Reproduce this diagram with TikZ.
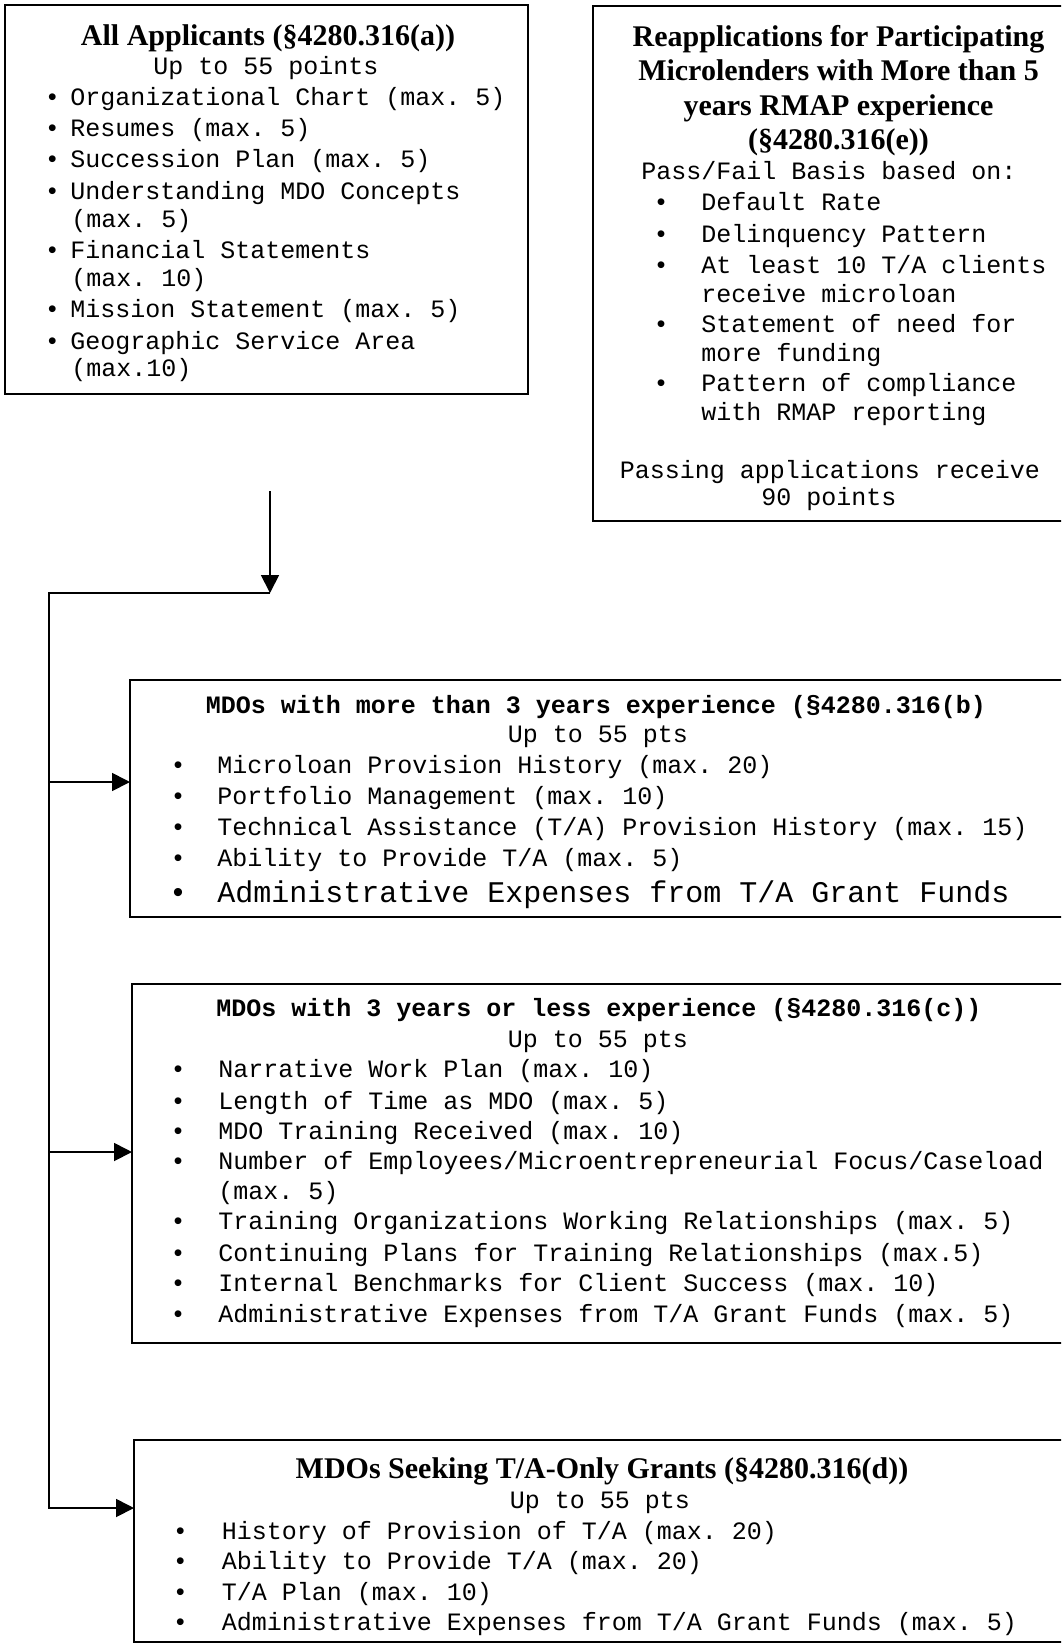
\documentclass[tikz,border=0pt]{standalone}
\usepackage{fontspec}
\setmainfont{Liberation Serif}
\setmonofont{Liberation Mono}
\usetikzlibrary{arrows.meta}
\newcommand{\fTitle}{\fontsize{15pt}{18pt}\selectfont\rmfamily\bfseries}
\newcommand{\fMono}{\fontsize{12.5pt}{15pt}\selectfont\ttfamily}
\newcommand{\fMonoB}{\fontsize{12.5pt}{15pt}\selectfont\ttfamily\bfseries}
\newcommand{\fMonoL}{\fontsize{15pt}{18pt}\selectfont\ttfamily}
\begin{document}
\begin{tikzpicture}[x=0.5pt,y=-0.5pt,
  box/.style={draw, line width=1pt, anchor=north west, inner sep=0pt, outer sep=0pt},
  ttl/.style={inner sep=0pt, font=\fTitle, text height=13pt, text depth=2.5pt},
  mono/.style={inner sep=0pt, font=\fMono, text height=11.5pt, text depth=2.5pt},
  monob/.style={inner sep=0pt, font=\fMonoB, text height=11.5pt, text depth=2.5pt},
  monol/.style={inner sep=0pt, font=\fMonoL, text height=13pt, text depth=2.5pt},
  item/.style={mono, anchor=west},
  itemL/.style={monol, anchor=west},
  bul/.style={mono},
  bulL/.style={monol},
  ln/.style={line width=0.9pt},
  arr/.style={line width=0.9pt, -{Triangle[length=9pt,width=9pt]}}
]
\useasboundingbox (0,0) rectangle (1061,1645);
\clip (0,0) rectangle (1061,1645);

% ---------- Box 1 ----------
\node[box, minimum width=261.5pt, minimum height=194.5pt] (b1) at (5,5) {};
\node[ttl] (b1t) at (268,34.6) {All Applicants (§4280.316(a))};
\node[mono] (b1s) at (266,65) {Up to 55 points};
\node[bul] (b1d1) at (52.5,96.5) {•};
\node[item] (b1i1) at (70,96.5) {Organizational Chart (max. 5)};
\node[bul] (b1d2) at (52.5,127) {•};
\node[item] (b1i2) at (70,127) {Resumes (max. 5)};
\node[bul] (b1d3) at (52.5,158.5) {•};
\node[item] (b1i3) at (70,158.5) {Succession Plan (max. 5)};
\node[bul] (b1d4) at (52.5,190) {•};
\node[item] (b1i4) at (70,190) {Understanding MDO Concepts};
\node[item] (b1i4b) at (71,218) {(max. 5)};
\node[bul] (b1d5) at (52.5,249) {•};
\node[item] (b1i5) at (70,249) {Financial Statements};
\node[item] (b1i5b) at (71,277) {(max. 10)};
\node[bul] (b1d6) at (52.5,308.5) {•};
\node[item] (b1i6) at (70,308.5) {Mission Statement (max. 5)};
\node[bul] (b1d7) at (52.5,340) {•};
\node[item] (b1i7) at (70,340) {Geographic Service Area};
\node[item] (b1i7b) at (71,367) {(max.10)};

% ---------- Box 2 ----------
\node[box, minimum width=243.5pt, minimum height=257.5pt] (b2) at (593,6) {};
\node[ttl] (b2t1) at (838.5,35.7) {Reapplications for Participating};
\node[ttl] (b2t2) at (838.5,70.3) {Microlenders with More than 5};
\node[ttl] (b2t3) at (838.5,105) {years RMAP experience};
\node[ttl] (b2t4) at (838.5,138.5) {(§4280.316(e))};
\node[mono] (b2s) at (829,170) {Pass/Fail Basis based on:};
\node[bul] (b2d1) at (661,201.5) {•};
\node[item] (b2i1) at (701,201.5) {Default Rate};
\node[bul] (b2d2) at (661,233) {•};
\node[item] (b2i2) at (701,233) {Delinquency Pattern};
\node[bul] (b2d3) at (661,264.5) {•};
\node[item] (b2i3) at (701,264.5) {At least 10 T/A clients};
\node[item] (b2i3b) at (701,293) {receive microloan};
\node[bul] (b2d4) at (661,323) {•};
\node[item] (b2i4) at (701,323) {Statement of need for};
\node[item] (b2i4b) at (701,352.6) {more funding};
\node[bul] (b2d5) at (661,382) {•};
\node[item] (b2i5) at (701,382) {Pattern of compliance};
\node[item] (b2i5b) at (701,411) {with RMAP reporting};
\node[mono] (b2p1) at (830,469) {Passing applications receive};
\node[mono] (b2p2) at (829,496) {90 points};

% ---------- Box 3 ----------
\node[box, minimum width=475pt, minimum height=118.5pt] (b3) at (130,680) {};
\node[monob] (b3t) at (596,704) {MDOs with more than 3 years experience (§4280.316(b)};
\node[mono] (b3s) at (598,733.6) {Up to 55 pts};
\node[bul] (b3d1) at (178,764) {•};
\node[item] (b3i1) at (217,764) {Microloan Provision History (max. 20)};
\node[bul] (b3d2) at (178,795.5) {•};
\node[item] (b3i2) at (217,795.5) {Portfolio Management (max. 10)};
\node[bul] (b3d3) at (178,826) {•};
\node[item] (b3i3) at (217,826) {Technical Assistance (T/A) Provision History (max. 15)};
\node[bul] (b3d4) at (178,857.4) {•};
\node[item] (b3i4) at (217,857.4) {Ability to Provide T/A (max. 5)};
\node[bulL] (b3d5) at (178,892) {•};
\node[itemL] (b3i5) at (217,892) {Administrative Expenses from T/A Grant Funds};

% ---------- Box 4 ----------
\node[box, minimum width=474pt, minimum height=179.5pt] (b4) at (132,984) {};
\node[monob] (b4t) at (599,1007.5) {MDOs with 3 years or less experience (§4280.316(c))};
\node[mono] (b4s) at (598,1038) {Up to 55 pts};
\node[bul] (b4d1) at (178,1068) {•};
\node[item] (b4i1) at (218,1068) {Narrative Work Plan (max. 10)};
\node[bul] (b4d2) at (178,1100) {•};
\node[item] (b4i2) at (218,1100) {Length of Time as MDO (max. 5)};
\node[bul] (b4d3) at (178,1130) {•};
\node[item] (b4i3) at (218,1130) {MDO Training Received (max. 10)};
\node[bul] (b4d4) at (178,1160.7) {•};
\node[item] (b4i4) at (218,1160.7) {Number of Employees/Microentrepreneurial Focus/Caseload};
\node[item] (b4i4b) at (218,1190) {(max. 5)};
\node[bul] (b4d5) at (178,1220.6) {•};
\node[item] (b4i5) at (218,1220.6) {Training Organizations Working Relationships (max. 5)};
\node[bul] (b4d6) at (178,1252) {•};
\node[item] (b4i6) at (218,1252) {Continuing Plans for Training Relationships (max.5)};
\node[bul] (b4d7) at (178,1282.5) {•};
\node[item] (b4i7) at (218,1282.5) {Internal Benchmarks for Client Success (max. 10)};
\node[bul] (b4d8) at (178,1313) {•};
\node[item] (b4i8) at (218,1313) {Administrative Expenses from T/A Grant Funds (max. 5)};

% ---------- Box 5 ----------
\node[box, minimum width=473pt, minimum height=101pt] (b5) at (134,1440) {};
\node[ttl] (b5t) at (602,1468) {MDOs Seeking T/A-Only Grants (§4280.316(d))};
\node[mono] (b5s) at (600,1499) {Up to 55 pts};
\node[bul] (b5d1) at (180.5,1530) {•};
\node[item] (b5i1) at (221.5,1530) {History of Provision of T/A (max. 20)};
\node[bul] (b5d2) at (180.5,1560.6) {•};
\node[item] (b5i2) at (221.5,1560.6) {Ability to Provide T/A (max. 20)};
\node[bul] (b5d3) at (180.5,1591) {•};
\node[item] (b5i3) at (221.5,1591) {T/A Plan (max. 10)};
\node[bul] (b5d4) at (180.5,1621.5) {•};
\node[item] (b5i4) at (221.5,1621.5) {Administrative Expenses from T/A Grant Funds (max. 5)};

% ---------- Connectors ----------
\coordinate (src) at (270,491);
\coordinate (jn) at (270,593);
\coordinate (trunk) at (49,593);
\coordinate (k3) at (49,782);
\coordinate (k4) at (49,1152);
\coordinate (k5) at (49,1508);
\draw[arr] (src) -- (jn);
\draw[arr] (jn) -- (trunk) -- (k5) -- (k5 -| b5.west);
\draw[arr] (k3) -- (k3 -| b3.west);
\draw[arr] (k4) -- (k4 -| b4.west);
\end{tikzpicture}
\end{document}
